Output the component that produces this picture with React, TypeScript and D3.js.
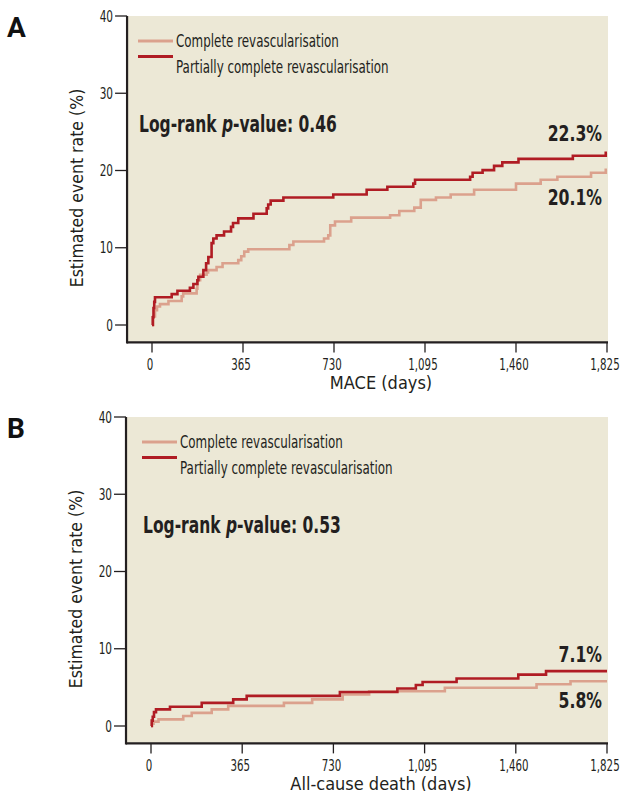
import React from 'react';
import * as d3 from 'd3';

const xTicks = [0, 365, 730, 1095, 1460, 1825];
const yTicks = [0, 10, 20, 30, 40];
const seriesNames = ['Complete revascularisation', 'Partially complete revascularisation'];

// MACE, [day, %]
const maceComplete: [number, number][] = [
  [0, 0], [5, 1.1], [12, 1.9], [20, 2.4], [32, 2.7], [66, 3.1], [119, 3.7], [125, 4.1], [179, 4.7],
  [182, 5.8], [193, 6.5], [219, 6.8], [225, 7.1], [259, 7.5], [283, 8.0], [346, 8.4], [358, 8.9],
  [370, 9.5], [386, 9.8], [551, 10.35], [567, 10.8], [690, 11.2], [707, 11.6], [715, 12.9], [734, 13.4],
  [799, 13.9], [955, 14.2], [992, 14.75], [1052, 15.2], [1078, 16.2], [1139, 16.5], [1198, 16.9],
  [1292, 17.5], [1460, 18.3], [1559, 18.8], [1626, 19.2], [1761, 19.7], [1820, 20.1], [1825, 20.1],
];
const macePartial: [number, number][] = [
  [0, 0], [3, 1.0], [6, 2.2], [9, 3.0], [12, 3.6], [79, 4.0], [102, 4.44], [152, 4.83], [166, 5.3],
  [182, 5.8], [186, 6.25], [206, 7.1], [217, 8.0], [226, 8.8], [239, 10.6], [246, 11.2], [259, 11.6],
  [289, 12.1], [317, 12.7], [325, 13.2], [346, 13.8], [407, 14.4], [460, 15.1], [466, 15.6], [476, 16.1],
  [527, 16.5], [727, 16.9], [861, 17.5], [944, 17.9], [1048, 18.3], [1055, 18.8], [1276, 19.2],
  [1286, 19.7], [1326, 20.05], [1372, 20.6], [1405, 21.05], [1470, 21.5], [1688, 21.9], [1820, 22.3], [1825, 22.3],
];

// All-cause death, [day, %]
const deathComplete: [number, number][] = [
  [0, 0], [4, 0.3], [10, 0.56], [30, 0.86], [129, 1.3], [163, 1.7], [243, 2.15], [309, 2.6], [532, 3.0],
  [645, 3.45], [767, 4.1], [873, 4.5], [1176, 4.95], [1543, 5.4], [1679, 5.8], [1825, 5.8],
];
const deathPartial: [number, number][] = [
  [0, 0], [3, 0.7], [7, 1.2], [12, 1.8], [20, 2.15], [76, 2.5], [203, 3.0], [329, 3.45], [383, 3.9],
  [756, 4.4], [986, 4.85], [1060, 5.3], [1087, 5.7], [1223, 6.15], [1470, 6.65], [1581, 7.1], [1825, 7.1],
];

const LIGHT = '#dba18d';
const DARK = '#b01c24';
const BG = '#ece8d6';
const INK = '#231f20';
const FONT = '"DejaVu Sans Condensed", "DejaVu Sans", sans-serif';

// squeezed text, to get close to the narrow face of the original
function NText({ x, y, sx = 0.72, size, anchor = 'start', bold = false, children }: {
  x: number; y: number; sx?: number; size: number; anchor?: string; bold?: boolean; children: React.ReactNode;
}) {
  return (
    <text transform={`translate(${x},${y}) scale(${sx},1)`} fontSize={size} textAnchor={anchor}
      fontWeight={bold ? 'bold' : 'normal'} fill={INK}>{children}</text>
  );
}

type PanelProps = {
  letter: string;
  xRange: [number, number];
  yRange: [number, number];
  xTitle: string;
  pValue: string;
  complete: [number, number][];
  partial: [number, number][];
  endLabels: [string, string];
  endOffsets: [number, number];
  legendX: number;
};

function Panel({ letter, xRange, yRange, xTitle, pValue, complete, partial, endLabels, endOffsets, legendX }: PanelProps) {
  const x = d3.scaleLinear().domain([0, 1825]).range(xRange);
  const y = d3.scaleLinear().domain([0, 40]).range(yRange);
  const left = x(-100);
  const right = x(1829);
  const bottom = y(-2.25);
  const top = y(40);
  const line = d3.line<[number, number]>().x(d => x(d[0])).y(d => y(d[1])).curve(d3.curveStepAfter);
  const fmt = d3.format(',');
  const lastP = partial[partial.length - 1][1];
  const lastC = complete[complete.length - 1][1];

  return (
    <g fontFamily={FONT}>
      <text x={7} y={top + 21} fontSize={28} fontWeight="bold" fill="#111" fontFamily="Roboto, sans-serif">{letter}</text>
      <rect x={left} y={top} width={right - left} height={bottom - top} fill={BG} />
      {yTicks.map(t => (
        <g key={t}>
          <line x1={left - 12} x2={left} y1={y(t)} y2={y(t)} stroke={INK} strokeWidth={1.3} />
          <NText x={left - 14} y={y(t) + 5.5} size={15} sx={0.78} anchor="end">{t}</NText>
        </g>
      ))}
      {xTicks.map(t => (
        <g key={t}>
          <line x1={x(t)} x2={x(t)} y1={bottom} y2={bottom + 10} stroke={INK} strokeWidth={1.3} />
          <NText x={x(t) - 2} y={bottom + 28} size={15} sx={0.76} anchor="middle">{fmt(t)}</NText>
        </g>
      ))}
      <line x1={left} x2={left} y1={top} y2={bottom + 1} stroke={INK} strokeWidth={2.2} />
      <line x1={left} x2={right} y1={bottom} y2={bottom} stroke={INK} strokeWidth={2.2} />
      <text x={381} y={bottom + 47} textAnchor="middle" fontSize={18} fill={INK}>{xTitle}</text>
      <text transform={`translate(${left - 44},${top + 172}) rotate(-90)`} textAnchor="middle" fontSize={17.5} fill={INK}>
        Estimated event rate (%)
      </text>

      <line x1={legendX} x2={legendX + 35} y1={top + 25} y2={top + 25} stroke={LIGHT} strokeWidth={3} />
      <NText x={legendX + 38} y={top + 30.5} size={18.5} sx={0.716}>{seriesNames[0]}</NText>
      <line x1={legendX} x2={legendX + 35} y1={top + 40.5} y2={top + 40.5} stroke={DARK} strokeWidth={3} />
      <NText x={legendX + 38} y={top + 57} size={18.5} sx={0.716}>{seriesNames[1]}</NText>

      <NText x={legendX + 1} y={top + 116} size={23} sx={0.75} bold>
        Log-rank <tspan fontStyle="italic">p</tspan>-value: {pValue}
      </NText>

      <path d={line(complete) ?? ''} fill="none" stroke={LIGHT} strokeWidth={2.6} />
      <path d={line(partial) ?? ''} fill="none" stroke={DARK} strokeWidth={2.6} />

      <NText x={right - 6} y={y(lastP) + endOffsets[0]} size={21.5} sx={0.81} anchor="end" bold>{endLabels[0]}</NText>
      <NText x={right - 6} y={y(lastC) + endOffsets[1]} size={21.5} sx={0.81} anchor="end" bold>{endLabels[1]}</NText>
    </g>
  );
}

export default function App() {
  return (
    <svg width={621} height={791} style={{ position: 'absolute', left: 0, top: 0, background: '#fff' }}>
      <Panel letter="A" xRange={[152, 607]} yRange={[325, 16]} xTitle="MACE (days)" pValue="0.46"
        complete={maceComplete} partial={macePartial} endLabels={['22.3%', '20.1%']} endOffsets={[-12, 35]} legendX={138} />
      <Panel letter="B" xRange={[151, 607]} yRange={[726, 417]} xTitle="All-cause death (days)" pValue="0.53"
        complete={deathComplete} partial={deathPartial} endLabels={['7.1%', '5.8%']} endOffsets={[-9.5, 27]} legendX={142} />
    </svg>
  );
}
